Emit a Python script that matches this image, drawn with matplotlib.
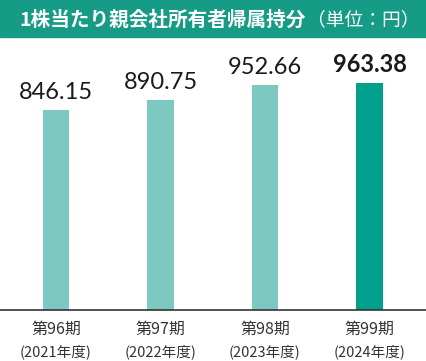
import matplotlib.pyplot as plt
from matplotlib.patches import Rectangle
from matplotlib.transforms import blended_transform_factory

periods = ["第96期", "第97期", "第98期", "第99期"]
years = ["(2021年度)", "(2022年度)", "(2023年度)", "(2024年度)"]
values = [846.15, 890.75, 952.66, 963.38]
labels = ["846.15", "890.75", "952.66", "963.38"]

light = "#7dc8c0"
dark = "#00a08c"
colors = [light, light, light, dark]

W, H = 426, 361
fig = plt.figure(figsize=(W / 100, H / 100), dpi=100)

# title band
fig.patches.append(Rectangle((0, (H - 37) / H), 1, 37 / H, transform=fig.transFigure,
                             color="#169b86", zorder=0))
fig.text(19 / W, (H - 20) / H, "1株当たり親会社所有者帰属持分", color="white",
         fontsize=14.1, fontweight="bold", family=["Noto Sans CJK JP", "DejaVu Sans"],
         ha="left", va="center")
fig.text(307 / W, (H - 20) / H, "（単位：円）", color="white",
         fontsize=13.5, family=["Noto Sans CJK JP", "DejaVu Sans"],
         ha="left", va="center")

ax = fig.add_axes([0, 51 / H, 1, 270 / H])
x = range(len(values))
ax.bar(x, values, width=0.25, color=colors, zorder=2)
ax.set_xlim(-0.536, 3.541)
ax.set_ylim(0, 270 * 4.24)

for i, (v, t) in enumerate(zip(values, labels)):
    ax.annotate(t, (i, v), xytext=(0, 8), textcoords="offset points",
                ha="center", va="baseline", fontsize=17, color="#1a1a1a",
                family="Lato", fontweight="bold" if i == 3 else "normal")

tr = blended_transform_factory(ax.transData, ax.transAxes)
for i, (p, y) in enumerate(zip(periods, years)):
    ax.annotate(p, (i, 0), xycoords=tr, xytext=(0, -13.7), textcoords="offset points",
                ha="center", va="center", fontsize=11.5, color="#333333",
                family=["Noto Sans CJK JP", "DejaVu Sans"])
    ax.annotate(y, (i, 0), xycoords=tr, xytext=(0, -30), textcoords="offset points",
                ha="center", va="center", fontsize=10.5, color="#333333",
                family=["Noto Sans CJK JP", "DejaVu Sans"])

for s in ["top", "left", "right"]:
    ax.spines[s].set_visible(False)
ax.spines["bottom"].set_color("#333333")
ax.spines["bottom"].set_linewidth(1.2)
ax.set_xticks([])
ax.set_yticks([])
ax.patch.set_alpha(0)

fig.savefig("out.png", dpi=100)
